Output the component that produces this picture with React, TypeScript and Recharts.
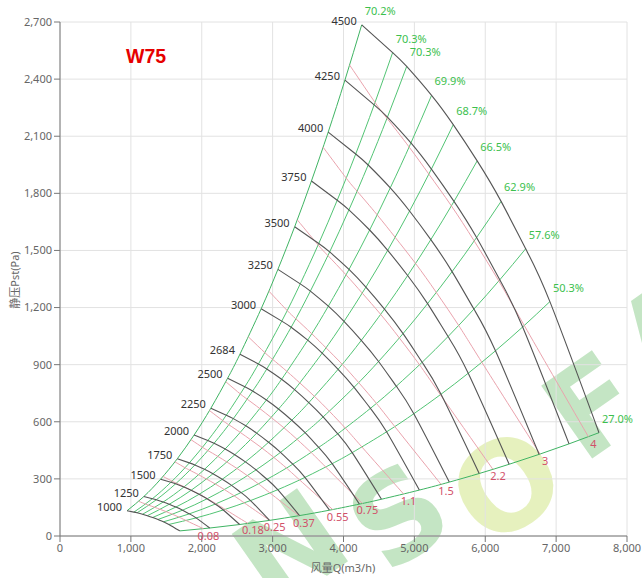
import React from 'react';
import { LineChart, Line, XAxis, YAxis, CartesianGrid } from 'recharts';

// Fan speeds (rpm) of the dark speed curves
const speeds = [1000, 1250, 1500, 1750, 2000, 2250, 2500, 2684, 3000, 3250, 3500, 3750, 4000, 4250, 4500];
// Efficiency labels of the green operating lines (left boundary -> bottom boundary)
const effLabels = [70.2, 70.3, 70.3, 69.9, 68.7, 66.5, 62.9, 57.6, 50.3, 27.0];
// Speed curve at 1000 rpm, read at each green line crossing
const baseQ = [946, 1043, 1087, 1165, 1233, 1308, 1383, 1460, 1536, 1690];
const baseP = [132.6, 125.4, 121.8, 114.3, 106.7, 97.3, 86.8, 74.5, 60.8, 26.8];
// Power (kW) labels of the pink iso-power curves
const powerLabels = [0.08, 0.18, 0.25, 0.37, 0.55, 0.75, 1.1, 1.5, 2.2, 3, 4];
// Axis ticks
const xTicks = [0, 1000, 2000, 3000, 4000, 5000, 6000, 7000, 8000];
const yTicks = [0, 300, 600, 900, 1200, 1500, 1800, 2100, 2400, 2700];

type Pt = { x: number; y: number };

// fan affinity laws: Q ~ n, P ~ n^2, power ~ n^3
const speedCurves: Pt[][] = speeds.map((n) => {
  const r = n / 1000;
  return baseQ.map((q, i) => ({ x: q * r, y: baseP[i] * r * r }));
});
const effCurves: Pt[][] = effLabels.map((_, i) =>
  speeds.map((n) => {
    const r = n / 1000;
    return { x: baseQ[i] * r, y: baseP[i] * r * r };
  })
);
const basePower = baseQ.map((q, i) => ((q / 3600) * baseP[i]) / (effLabels[i] / 100) / 1000);
const powerCurves: Pt[][] = powerLabels.map((w) =>
  baseQ.map((q, i) => {
    const r = Math.cbrt(w / basePower[i]);
    return { x: q * r, y: baseP[i] * r * r };
  })
);

const FONT = "'Noto Sans', 'Noto Sans CJK SC', sans-serif";
const fmt = (v: number) => v.toLocaleString('en-US');

const speedLabel = (n: number) => (props: any) =>
  props.index === 0 ? (
    <text key={'sl' + n} x={props.x - 5} y={props.y} textAnchor="end" fontSize={11} fontFamily={FONT} fill="#333">
      {n}
    </text>
  ) : (
    <g key={'sl' + n + '-' + props.index} />
  );

const effLabel = (e: number, k: number) => (props: any) =>
  props.index === speeds.length - 1 ? (
    <text key={'el' + k} x={props.x + 3} y={props.y - 10} textAnchor="start" fontSize={11} fontFamily={FONT} fill="#3cbf4e">
      {e.toFixed(1)}%
    </text>
  ) : (
    <g key={'el' + k + '-' + props.index} />
  );

const powerLabel = (w: number, k: number) => (props: any) =>
  props.index === baseQ.length - 1 ? (
    <text key={'pl' + k} x={props.x + 5} y={props.y + 11} textAnchor="middle" fontSize={11} fontFamily={FONT} fill="#d2506a">
      {w}
    </text>
  ) : (
    <g key={'pl' + k + '-' + props.index} />
  );

// decorative watermark letters (centre position on the page)
const wmLetters = [
  { ch: 'N', cx: 290, cy: 548, c: '#5cb85c' },
  { ch: 'S', cx: 398, cy: 515, c: '#5cb85c' },
  { ch: 'O', cx: 506, cy: 485, c: '#b9d84a' },
  { ch: 'F', cx: 592, cy: 405, c: '#5cb85c' },
  { ch: 'A', cx: 668, cy: 330, c: '#5cb85c' },
];

export default function App() {
  return (
    <div style={{ position: 'absolute', left: 0, top: 0, width: 642, height: 578, background: '#fff', overflow: 'hidden' }}>
      <svg width={642} height={578} style={{ position: 'absolute', left: 0, top: 0 }}>
        {wmLetters.map((l, i) => (
          <text
            key={i}
            x={0}
            y={44}
            transform={`translate(${l.cx},${l.cy}) rotate(-35)`}
            textAnchor="middle"
            fontFamily="'DejaVu Sans', sans-serif"
            fontWeight="bold"
            fontSize={122}
            fill={l.c}
            fillOpacity={0.36}
          >
            {l.ch}
          </text>
        ))}
      </svg>
      <div style={{ position: 'absolute', left: 0, top: 0 }}>
        <LineChart width={642} height={578} margin={{ top: 22, right: 15, bottom: 12, left: 0 }}>
          <CartesianGrid stroke="#e2e2e2" />
          <XAxis
            type="number"
            dataKey="x"
            domain={[0, 8000]}
            ticks={xTicks}
            interval={0}
            tickFormatter={fmt}
            height={30}
            stroke="#777"
            tick={{ fill: '#666', fontSize: 11, fontFamily: FONT }}
            allowDataOverflow
          />
          <YAxis
            type="number"
            dataKey="y"
            domain={[0, 2700]}
            ticks={yTicks}
            interval={0}
            tickFormatter={fmt}
            width={60}
            stroke="#777"
            tick={{ fill: '#666', fontSize: 11, fontFamily: FONT }}
            allowDataOverflow
          />
          {effCurves.map((d, i) => (
            <Line
              key={'e' + i}
              data={d}
              dataKey="y"
              type="natural"
              stroke={i === 0 || i === effCurves.length - 1 ? '#3fb463' : '#52c474'}
              strokeWidth={1}
              dot={false}
              activeDot={false}
              isAnimationActive={false}
              label={effLabel(effLabels[i], i)}
            />
          ))}
          {powerCurves.map((d, i) => (
            <Line
              key={'p' + i}
              data={d}
              dataKey="y"
              type="natural"
              stroke="#eaa3ad"
              strokeWidth={1}
              dot={false}
              activeDot={false}
              isAnimationActive={false}
              label={powerLabel(powerLabels[i], i)}
            />
          ))}
          {speedCurves.map((d, i) => (
            <Line
              key={'s' + i}
              data={d}
              dataKey="y"
              type="natural"
              stroke="#555"
              strokeWidth={1.1}
              dot={false}
              activeDot={false}
              isAnimationActive={false}
              label={speedLabel(speeds[i])}
            />
          ))}
        </LineChart>
      </div>
      <svg width={642} height={578} style={{ position: 'absolute', left: 0, top: 0, pointerEvents: 'none' }}>
        <text x={126} y={63} fontSize={19.5} fontWeight="bold" fontFamily="'Liberation Sans', Arial, sans-serif" fill="#e60000">
          W75
        </text>
        <text x={343} y={572} textAnchor="middle" fontSize={11} fontFamily={FONT} fill="#666">
          风量Q(m3/h)
        </text>
        <text x={19} y={280} textAnchor="middle" fontSize={11} fontFamily={FONT} fill="#666" transform="rotate(-90 19 280)">
          静压Pst(Pa)
        </text>
      </svg>
    </div>
  );
}
